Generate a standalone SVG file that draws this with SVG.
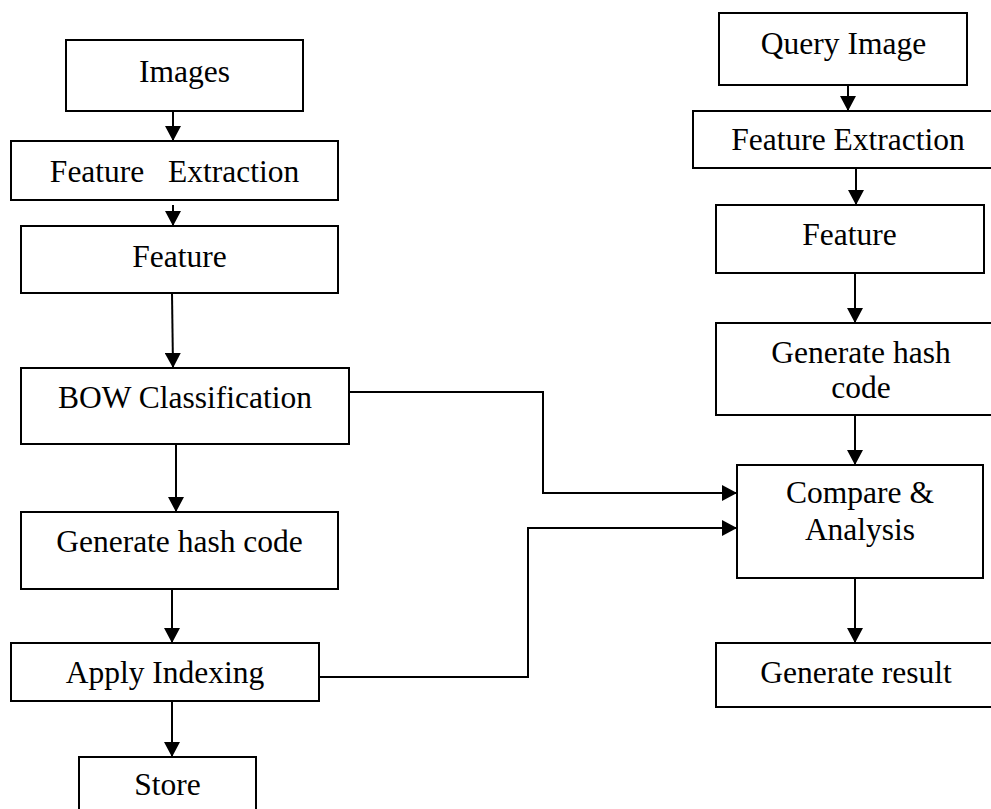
<svg xmlns="http://www.w3.org/2000/svg" width="991" height="809" viewBox="0 0 991 809">
<defs>
<style>
.box{fill:#fff;stroke:#000;stroke-width:2}
.t{font-family:"Liberation Serif","Times New Roman",serif;font-size:31.5px;fill:#000;text-anchor:middle}
.c{fill:none;stroke:#000;stroke-width:2}
</style>
<marker id="ah" markerUnits="userSpaceOnUse" markerWidth="15" markerHeight="16" viewBox="0 0 15 16" refX="15" refY="8" orient="auto">
<path d="M0,0 L15,8 L0,16 Z" fill="#000"/>
</marker>
</defs>
<rect width="991" height="809" fill="#fff"/>
<g id="connectors">
<line class="c" x1="173" y1="111" x2="173" y2="141" marker-end="url(#ah)"/>
<line class="c" x1="173" y1="205" x2="173" y2="226" marker-end="url(#ah)"/>
<line class="c" x1="172" y1="293" x2="173" y2="368" marker-end="url(#ah)"/>
<line class="c" x1="176" y1="444" x2="176" y2="512" marker-end="url(#ah)"/>
<line class="c" x1="172" y1="589" x2="172" y2="643" marker-end="url(#ah)"/>
<line class="c" x1="172" y1="701" x2="172" y2="757" marker-end="url(#ah)"/>
<polyline class="c" points="349,392 543,392 543,493 737,493" marker-end="url(#ah)"/>
<polyline class="c" points="319,677 528,677 528,528 737,528" marker-end="url(#ah)"/>
<line class="c" x1="848" y1="85" x2="848" y2="111" marker-end="url(#ah)"/>
<line class="c" x1="856" y1="168" x2="856" y2="205" marker-end="url(#ah)"/>
<line class="c" x1="855" y1="273" x2="855" y2="323" marker-end="url(#ah)"/>
<line class="c" x1="855" y1="415" x2="855" y2="465" marker-end="url(#ah)"/>
<line class="c" x1="855" y1="578" x2="855" y2="643" marker-end="url(#ah)"/>
</g>
<g id="images"><rect class="box" x="66" y="40" width="237" height="71"/><text class="t" x="184.5" y="82">Images</text></g>
<g id="feature-extraction"><rect class="box" x="11" y="141" width="327" height="59"/><text class="t" x="174.5" y="182">Feature&#160;&#160;&#160;Extraction</text></g>
<g id="feature"><rect class="box" x="21" y="226" width="317" height="67"/><text class="t" x="179.5" y="267">Feature</text></g>
<g id="bow"><rect class="box" x="21" y="368" width="328" height="76"/><text class="t" x="185" y="408">BOW Classification</text></g>
<g id="hash"><rect class="box" x="21" y="512" width="317" height="77"/><text class="t" x="179.5" y="552">Generate hash code</text></g>
<g id="indexing"><rect class="box" x="11" y="643" width="308" height="58"/><text class="t" x="165" y="683">Apply Indexing</text></g>
<g id="store"><rect class="box" x="79" y="757" width="177" height="60"/><text class="t" x="167.5" y="795">Store</text></g>
<g id="query-image"><rect class="box" x="719" y="13" width="248" height="72"/><text class="t" x="843.5" y="54">Query Image</text></g>
<g id="q-feature-extraction"><rect class="box" x="693" y="111" width="310" height="57"/><text class="t" x="848" y="150">Feature Extraction</text></g>
<g id="q-feature"><rect class="box" x="716" y="205" width="268" height="68"/><text class="t" x="849.5" y="245">Feature</text></g>
<g id="q-hash"><rect class="box" x="716" y="323" width="290" height="92"/><text class="t" x="861" y="363">Generate hash</text><text class="t" x="861" y="398">code</text></g>
<g id="compare"><rect class="box" x="737" y="465" width="246" height="113"/><text class="t" x="860" y="503">Compare &amp;</text><text class="t" x="860" y="540">Analysis</text></g>
<g id="result"><rect class="box" x="716" y="643" width="290" height="64"/><text class="t" x="856" y="683">Generate result</text></g>
</svg>
